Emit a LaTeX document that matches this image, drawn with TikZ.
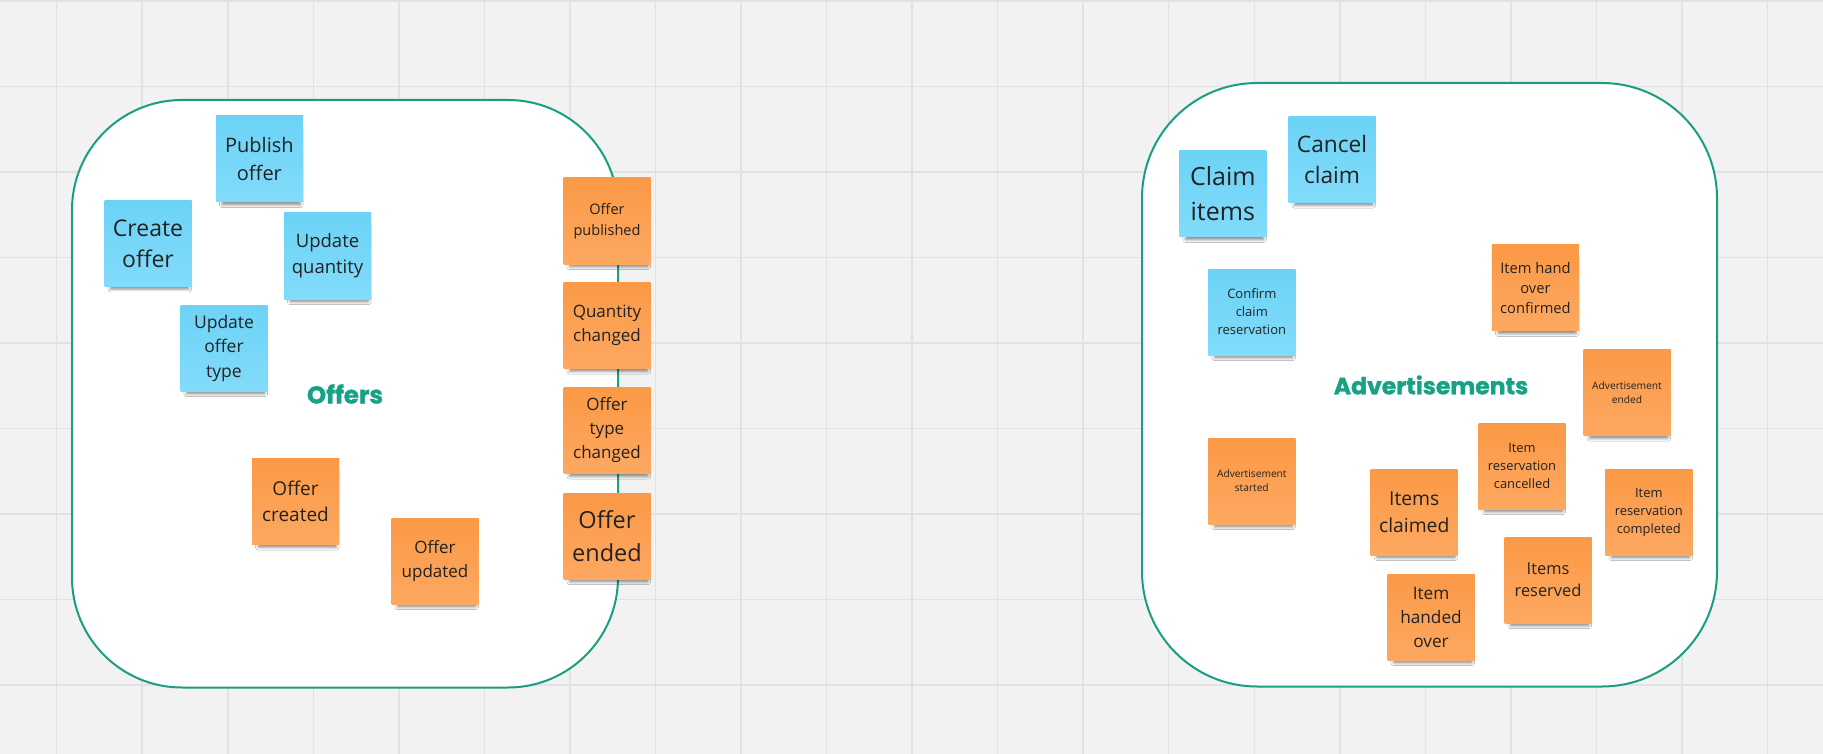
\documentclass[tikz,border=0pt]{standalone}
\usepackage{fontspec}
\setmainfont{Open Sans}
\newfontfamily\lblfont{Poppins}[BoldFeatures={FakeBold=1.2}]
\usetikzlibrary{shadows.blur}
\definecolor{bgc}{HTML}{F2F2F2}
\definecolor{gridc}{HTML}{E2E2E2}
\definecolor{teal}{HTML}{1A9E82}
\definecolor{lblc}{HTML}{17A286}
\definecolor{btop}{HTML}{6CD3F6}
\definecolor{bbot}{HTML}{82DBFA}
\definecolor{otop}{HTML}{FB9946}
\definecolor{obot}{HTML}{FDA861}
\definecolor{txt}{HTML}{222222}
\newcommand\fsz[2]{\fontsize{#1}{#2}\selectfont}
\tikzset{
  note/.style={rectangle, draw=none, minimum width=87pt, minimum height=86pt,
    inner sep=0pt, align=center, text=txt,
    blur shadow={shadow xshift=2pt, shadow yshift=-8pt, shadow scale=0.9,
      shadow opacity=45, shadow blur radius=3pt}},
  bnote/.style={note, top color=btop, bottom color=bbot},
  onote/.style={note, top color=otop, bottom color=obot},
  ctx/.style={draw=teal, line width=2pt, fill=white},
  lbl/.style={text=lblc}
}
\begin{document}
\begin{tikzpicture}[x=1pt,y=-1pt]
\useasboundingbox (0,0) rectangle (1823,754);
\fill[bgc] (0,0) rectangle (1823,754);
\foreach \i in {0,...,20} {
  \draw[gridc, line width=1.5pt] ({56.7+85.54*\i},0) -- ({56.7+85.54*\i},754);
}
\foreach \j in {0,...,8} {
  \draw[gridc, line width=1.5pt] (0,{1.2+85.5*\j}) -- (1823,{1.2+85.5*\j});
}
% containers
\draw[ctx, rounded corners=110pt] (72,100) rectangle (618,687.5);
\draw[ctx, rounded corners=115pt] (1142,83) rectangle (1717,686.5);
\node[lbl, font=\lblfont\bfseries\fsz{24.5}{28}] (offers) at (345,394) {Offers};
\node[lbl, font=\lblfont\bfseries\fsz{23.5}{28}] (ads) at (1431,385) {Advertisements};
% Offers notes
\node[bnote, font=\fsz{20}{28}] (publish) at (259.4,159) {Publish\\offer};
\node[bnote, font=\fsz{23}{31}] (create) at (148,243.3) {Create\\offer};
\node[bnote, font=\fsz{18.5}{26}] (updq) at (327.5,256) {Update\\quantity};
\node[bnote, font=\fsz{17.5}{24.5}] (updt) at (224,348) {Update\\offer\\type};
\node[onote, font=\fsz{19}{26}] (created) at (295.5,501.5) {Offer\\created};
\node[onote, font=\fsz{17}{24}] (updated) at (435,561) {Offer\\updated};
\node[onote, font=\fsz{14.5}{21}] (published) at (607,221) {Offer\\published};
\node[onote, font=\fsz{17}{24}] (qchanged) at (607,325.5) {Quantity\\changed};
\node[onote, font=\fsz{17}{24}] (tchanged) at (607,430.5) {Offer\\type\\changed};
\node[onote, font=\fsz{23.5}{33.5}] (ended) at (607,536) {Offer\\ended};
% Advertisements notes
\node[bnote, font=\fsz{25}{34.5}] (claim) at (1222.8,193.8) {Claim\\items};
\node[bnote, font=\fsz{22.7}{31.4}] (cancel) at (1332,159.5) {Cancel\\claim};
\node[bnote, font=\fsz{13}{18}] (confirm) at (1251.8,312) {Confirm\\claim\\reservation};
\node[onote, font=\fsz{14.7}{19.8}] (hoconf) at (1535.4,287.8) {Item hand\\over\\confirmed};
\node[onote, font=\fsz{10.2}{13.5}] (adended) at (1627,392.5) {Advertisement\\ended};
\node[onote, font=\fsz{10.2}{13.9}] (adstarted) at (1251.8,481) {Advertisement\\started};
\node[onote, font=\fsz{12.9}{18.2}] (rescanc) at (1522,466) {Item\\reservation\\cancelled};
\node[onote, font=\fsz{19.3}{26.5}] (iclaimed) at (1414.2,512) {Items\\claimed};
\node[onote, font=\fsz{12.9}{18}] (rescomp) at (1648.8,512) {Item\\reservation\\completed};
\node[onote, font=\fsz{16.4}{22}] (ireserved) at (1548,580) {Items\\reserved};
\node[onote, font=\fsz{17.2}{24}] (ihanded) at (1431,617) {Item\\handed\\over};
\end{tikzpicture}
\end{document}
